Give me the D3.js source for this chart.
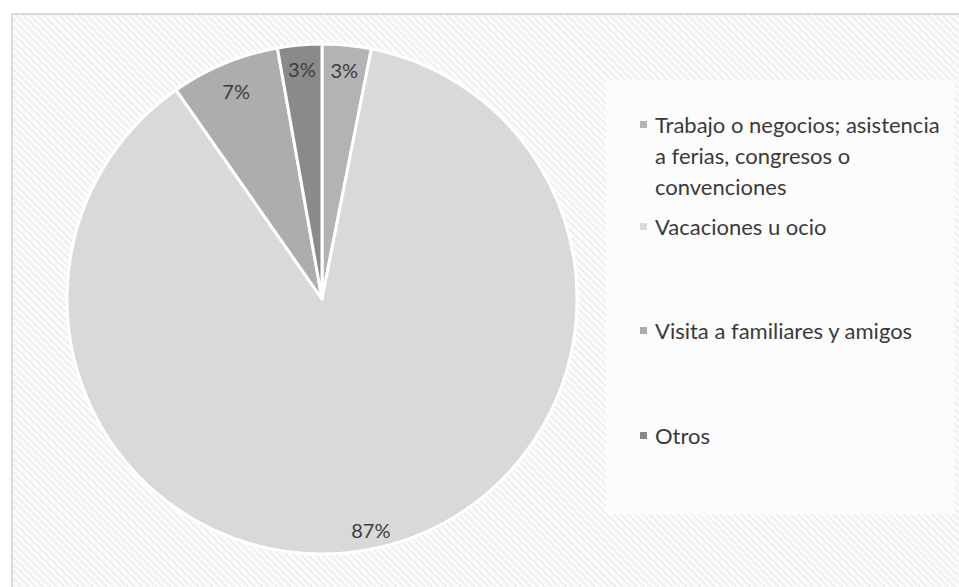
<!DOCTYPE html>
<html><head><meta charset="utf-8">
<script src="https://cdn.jsdelivr.net/npm/d3@7"></script>
<style>body{margin:0;background:#fff;}svg{display:block;}</style>
</head><body>
<svg id="c" width="959" height="587"></svg>
<script>
const categories = ["Trabajo o negocios; asistencia a ferias, congresos o convenciones", "Vacaciones u ocio", "Visita a familiares y amigos", "Otros"];
const legendLines = [["Trabajo o negocios; asistencia", "a ferias, congresos o", "convenciones"], ["Vacaciones u ocio"], ["Visita a familiares y amigos"], ["Otros"]];
const values = [3.1, 87.2, 6.9, 2.8];
const labels = ["3%", "87%", "7%", "3%"];
const colors = ["#b3b3b3", "#d9d9d9", "#adadad", "#8a8a8a"];

const svg = d3.select("#c");
const defs = svg.append("defs");
const pat = defs.append("pattern").attr("id","hatch").attr("patternUnits","userSpaceOnUse")
  .attr("width",5).attr("height",5).attr("patternTransform","rotate(-45)");
pat.append("rect").attr("width",5).attr("height",5).attr("fill","#fbfbfb");
pat.append("line").attr("x1",0).attr("y1",0).attr("x2",0).attr("y2",5).attr("stroke","#e6e6e6").attr("stroke-width",2);

// chart area
svg.append("rect").attr("x",12).attr("y",14).attr("width",960).attr("height",590)
  .attr("fill","url(#hatch)").attr("stroke","#d0d0d0").attr("stroke-width",1.5);

// legend box
svg.append("rect").attr("x",606).attr("y",80).attr("width",348).attr("height",434).attr("fill","#fcfcfc");

const cx = 322, cy = 299, r = 255;
const pie = d3.pie().sort(null).value(d => d)(values);
const arc = d3.arc().innerRadius(0).outerRadius(r);
const g = svg.append("g").attr("transform",`translate(${cx},${cy})`);
g.selectAll("path").data(pie).join("path")
  .attr("d",arc).attr("fill",(d,i)=>colors[i])
  .attr("stroke","#fff").attr("stroke-width",3).attr("stroke-linejoin","round");

// data labels
const labelRadii = [0.9, 0.93, 0.88, 0.9];
g.selectAll("text").data(pie).join("text")
  .attr("transform",(d,i)=>{
    const a = d3.arc().innerRadius(r*labelRadii[i]).outerRadius(r*labelRadii[i]);
    const [x,y] = a.centroid(d);
    return `translate(${x},${y})`;
  })
  .attr("text-anchor","middle").attr("dy","0.35em")
  .attr("font-family","Lato, 'Open Sans', sans-serif").attr("font-size",20)
  .attr("fill","#3d3d3d").text((d,i)=>labels[i]);

// legend
const legendY = [125, 227, 331, 436];
const lg = svg.append("g").attr("font-family","Lato, 'Open Sans', sans-serif").attr("font-size",22).attr("fill","#3a3a3a");
categories.forEach((c,i)=>{
  lg.append("rect").attr("x",640).attr("y",legendY[i]-4).attr("width",7).attr("height",7).attr("fill",colors[i]);
  const t = lg.append("text").attr("x",655).attr("y",legendY[i]).attr("dy","0.35em");
  legendLines[i].forEach((ln,j)=>{
    t.append("tspan").attr("x",655).attr("dy", j===0 ? "0.35em" : 31).text(ln);
  });
});
</script>
</body></html>
